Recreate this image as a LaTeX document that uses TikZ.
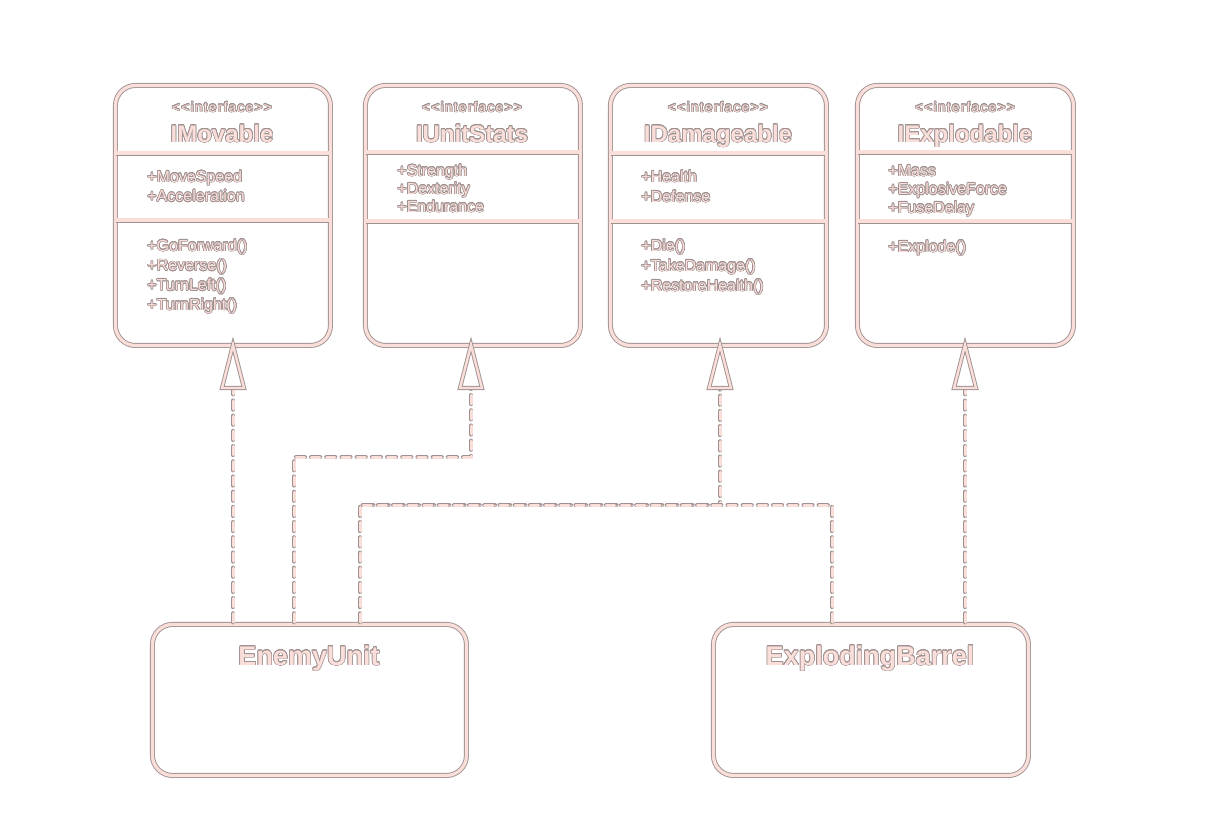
\documentclass[tikz,border=0pt]{standalone}
\usepackage{fontspec}
\newfontfamily\uif{Liberation Sans}
\newfontfamily\uifs[LetterSpace=8]{Liberation Sans}
\usepackage[copies]{contour}
\contourlength{0.32pt}
\definecolor{outc}{RGB}{160,145,145}
\definecolor{inc}{RGB}{250,222,218}
\tikzset{
  dbl/.style={draw=outc, line width=0.45pt, double=inc, double distance=1.6pt},
  cls/.style={dbl, rounded corners=10pt, fill=white, anchor=north west, inner sep=0pt},
  sep/.style={dbl},
  realize/.style={draw=outc, line width=0.45pt, double=inc, double distance=1.5pt,
     line cap=round, dash pattern=on 4.2pt off 3.4pt},
  tri/.style={draw=outc, line width=0.45pt, double=inc, double distance=1.2pt, fill=white, line join=miter},
  ster/.style={text=inc, font=\uifs\fontsize{7}{8}\selectfont, anchor=base, inner sep=0pt},
  cname/.style={text=inc, font=\uif\bfseries\fontsize{12}{14}\selectfont, anchor=base, inner sep=0pt},
  bname/.style={text=inc, font=\uif\bfseries\fontsize{13.5}{16}\selectfont, anchor=base, inner sep=0pt},
  mem/.style={text=inc, font=\uif\fontsize{8}{10}\selectfont, anchor=base west, inner sep=0pt},
}
\begin{document}
\begin{tikzpicture}[x=0.5pt,y=-0.5pt]
\useasboundingbox[fill=white] (0,0) rectangle (1224,816);

% ---- interface boxes
\node[cls, minimum width=107.5pt, minimum height=130pt] (mov) at (115,85) {};
\node[cls, minimum width=107.5pt, minimum height=130pt] (ust) at (365,85) {};
\node[cls, minimum width=108pt, minimum height=130pt] (dmg) at (610,85) {};
\node[cls, minimum width=108pt, minimum height=130pt] (exp) at (857,85) {};

% separators
\draw[sep] (116,153) -- (329,153);
\draw[sep] (116,220) -- (329,220);
\draw[sep] (366,152) -- (579,152);
\draw[sep] (366,221) -- (579,221);
\draw[sep] (611,153) -- (825,153);
\draw[sep] (611,221) -- (825,221);
\draw[sep] (858,152) -- (1072,152);
\draw[sep] (858,221) -- (1072,221);

% stereotypes and names
\node[ster] (movS) at (222,112) {\contour{outc}{<<interface>>}};
\node[cname] (movN) at (222,142) {\contour{outc}{IMovable}};
\node[ster] (ustS) at (472,112) {\contour{outc}{<<interface>>}};
\node[cname] (ustN) at (472,142) {\contour{outc}{IUnitStats}};
\node[ster] (dmgS) at (718,112) {\contour{outc}{<<interface>>}};
\node[cname] (dmgN) at (718,142) {\contour{outc}{IDamageable}};
\node[ster] (expS) at (965,112) {\contour{outc}{<<interface>>}};
\node[cname] (expN) at (965,142) {\contour{outc}{IExplodable}};

% members
\foreach \t [count=\i] in {+MoveSpeed,+Acceleration}
  \node[mem] (movA\i) at (147,{182+(\i-1)*19.5}) {\contour{outc}{\t}};
\foreach \t [count=\i] in {+GoForward(),+Reverse(),+TurnLeft(),+TurnRight()}
  \node[mem] (movM\i) at (147,{251+(\i-1)*19.7}) {\contour{outc}{\t}};
\foreach \t [count=\i] in {+Strength,+Dexterity,+Endurance}
  \node[mem] (ustA\i) at (397,{176+(\i-1)*18}) {\contour{outc}{\t}};
\foreach \t [count=\i] in {+Health,+Defense}
  \node[mem] (dmgA\i) at (641,{182+(\i-1)*20}) {\contour{outc}{\t}};
\foreach \t [count=\i] in {+Die(),+TakeDamage(),+RestoreHealth()}
  \node[mem] (dmgM\i) at (641,{251+(\i-1)*20}) {\contour{outc}{\t}};
\foreach \t [count=\i] in {+Mass,+ExplosiveForce,+FuseDelay}
  \node[mem] (expA\i) at (888,{176+(\i-1)*18.5}) {\contour{outc}{\t}};
\foreach \t [count=\i] in {+Explode()}
  \node[mem] (expM\i) at (888,{252+(\i-1)*20}) {\contour{outc}{\t}};

% ---- classes
\node[cls, minimum width=157pt, minimum height=75.5pt] (eu) at (152,624) {};
\node[cls, minimum width=157.5pt, minimum height=75.5pt] (eb) at (713,624) {};
\node[bname] (euN) at (309,665) {\contour{outc}{EnemyUnit}};
\node[bname] (ebN) at (870,665) {\contour{outc}{ExplodingBarrel}};

% ---- connector points
\coordinate (tM) at (233,345);  \coordinate (bM) at (233,388);
\coordinate (tU) at (471,345);  \coordinate (bU) at (471,388);
\coordinate (tD) at (720,345);  \coordinate (bD) at (720,388);
\coordinate (tE) at (965,345);  \coordinate (bE) at (965,388);
\coordinate (eu1) at (233,622); \coordinate (eu2) at (294,622); \coordinate (eu3) at (360,622);
\coordinate (eb1) at (832,622); \coordinate (eb2) at (965,622);
\coordinate (jU) at (294,457);
\coordinate (jD) at (360,505);

% dashed realization lines
\draw[realize] (eu1) -- (bM);
\draw[realize] (eu2) -- (jU) -| (bU);
\draw[realize] (eu3) -- (jD) -| (bD);
\draw[realize] (eb1) |- (jD);
\draw[realize] (eb2) -- (bE);

% hollow triangle heads
\foreach \n in {M,U,D,E}
  \draw[tri] (t\n) -- ([xshift=-5.5pt]b\n) -- ([xshift=5.5pt]b\n) -- cycle;
\end{tikzpicture}
\end{document}
